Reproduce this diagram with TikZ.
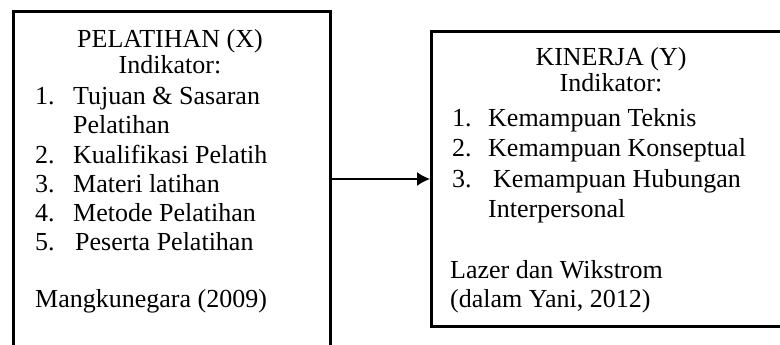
\documentclass[tikz,border=0pt]{standalone}
\usepackage{fontspec}
\setmainfont{Liberation Serif}
\usetikzlibrary{arrows.meta,positioning}
\tikzset{%
  kotak/.style={draw,line width=3pt,inner sep=0pt},%
  baris/.style={anchor=base west,inner sep=0pt,font=\fontsize{26}{29}\selectfont},%
  judul/.style={anchor=base,inner sep=0pt,font=\fontsize{26}{29}\selectfont}%
}
\begin{document}
\begin{tikzpicture}[x=1pt,y=-1pt]
\useasboundingbox (0,0) rectangle (780,345);
\clip (0,0) rectangle (780,345);
% the two boxes
\node[kotak,minimum width=317pt,minimum height=360pt,anchor=north west] (X) at (12,10) {};
\node[kotak,minimum width=362pt,minimum height=295pt,anchor=north west] (Y) at (430,30) {};

% left box
\node[judul] (xjudul) at (170,48) {PELATIHAN (X)};
\node[judul] (xind) at (170,74) {Indikator:};
\foreach \no/\isi [count=\i] in {1./Tujuan \& Sasaran,/Pelatihan,2./Kualifikasi Pelatih,%
  3./Materi latihan,4./Metode Pelatihan,5./\hspace{2pt}Peserta Pelatihan}
{
  \node[baris] (xno\i) at (35,76+29*\i) {\no};
  \node[baris] (xisi\i) at (73,76+29*\i) {\isi};
}
\node[baris] (xsumber) at (35,307) {Mangkunegara (2009)};

% right box
\node[judul] (yjudul) at (611,66) {KINERJA (Y)};
\node[judul] (yind) at (611,92) {Indikator:};
\foreach \no/\isi [count=\i] in {1./Kemampuan Teknis,2./Kemampuan Konseptual,%
  3./\hspace{5pt}Kemampuan Hubungan,/Interpersonal}
{
  \node[baris] (yno\i) at (452,97+30*\i) {\no};
  \node[baris] (yisi\i) at (488,97+30*\i) {\isi};
}
\node[baris] (ysumber1) at (450,278) {Lazer dan Wikstrom};
\node[baris] (ysumber2) at (450,307) {(dalam Yani, 2012)};

\draw[-{Latex[length=13pt,width=14pt]},line width=1.5pt] (X.east |- Y.west) -- (Y.west);
\end{tikzpicture}
\end{document}
